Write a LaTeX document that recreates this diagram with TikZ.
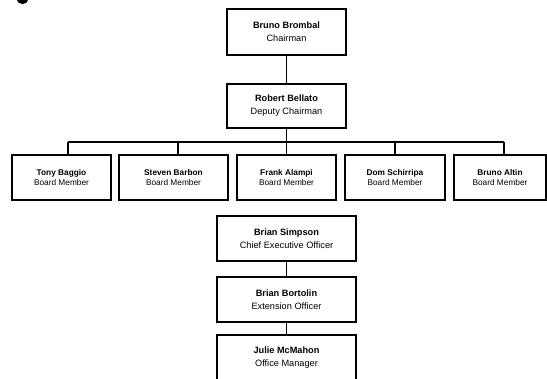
\documentclass[tikz,border=0pt]{standalone}
\usepackage{fontspec}
\setmainfont{Liberation Sans}
\begin{document}
\begin{tikzpicture}[x=1pt,y=-1pt,
  bigbox/.style={draw=black,line width=1.8pt,fill=white,align=center,inner sep=0pt,
    minimum height=45pt,font=\fontsize{9.2}{13}\selectfont},
  boardbox/.style={draw=black,line width=1.8pt,fill=white,align=center,inner sep=0pt,
    minimum height=45pt,font=\fontsize{8.3}{9.8}\selectfont},
  link/.style={draw=black,line width=1.8pt}]
\useasboundingbox (0,0) rectangle (547,379);
\clip (0,0) rectangle (547,379);
\fill[white] (0,0) rectangle (547,379);
% fragment of a cut-off heading glyph
\fill[black] (17,0) arc[start angle=180,end angle=360,x radius=5.5pt,y radius=4pt] -- cycle;

\node[bigbox,minimum width=119pt,minimum height=46pt] (chair) at (286.5,32) {\textbf{Bruno Brombal}\\Chairman};
\node[bigbox,minimum width=119pt,minimum height=44pt] (deputy) at (286.5,106) {\textbf{Robert Bellato}\\Deputy Chairman};

\node[boardbox,minimum width=99pt] (b1) at (61.5,177.5) {\textbf{Tony Baggio}\\Board Member};
\node[boardbox,minimum width=109pt] (b2) at (173.5,177.5) {\textbf{Steven Barbon}\\Board Member};
\node[boardbox,minimum width=99pt] (b3) at (286.5,177.5) {\textbf{Frank Alampi}\\Board Member};
\node[boardbox,minimum width=100pt] (b4) at (395,177.5) {\textbf{Dom Schirripa}\\Board Member};
\node[boardbox,minimum width=92pt] (b5) at (500,177.5) {\textbf{Bruno Altin}\\Board Member};

\node[bigbox,minimum width=139pt] (ceo) at (286.5,238.5) {\textbf{Brian Simpson}\\Chief Executive Officer};
\node[bigbox,minimum width=139pt] (ext) at (286.5,299.5) {\textbf{Brian Bortolin}\\Extension Officer};
\node[bigbox,minimum width=139pt,minimum height=46pt] (office) at (286.5,358) {\textbf{Julie McMahon}\\Office Manager};

\coordinate (bus) at (286.5,142);
\coordinate (d1) at (68,142);
\coordinate (d2) at (178,142);
\coordinate (d3) at (286.5,142);
\coordinate (d4) at (395,142);
\coordinate (d5) at (504,142);

\draw[link] (chair.south) -- (deputy.north);
\draw[link] (deputy.south) -- (bus);
\draw[link] (d1) -- (d5);
\draw[link] (d1) -- (d1 |- b1.north);
\draw[link] (d2) -- (d2 |- b2.north);
\draw[link] (d3) -- (b3.north);
\draw[link] (d4) -- (d4 |- b4.north);
\draw[link] (d5) -- (d5 |- b5.north);
\draw[link] (ceo.south) -- (ext.north);
\draw[link] (ext.south) -- (office.north);
\end{tikzpicture}
\end{document}
